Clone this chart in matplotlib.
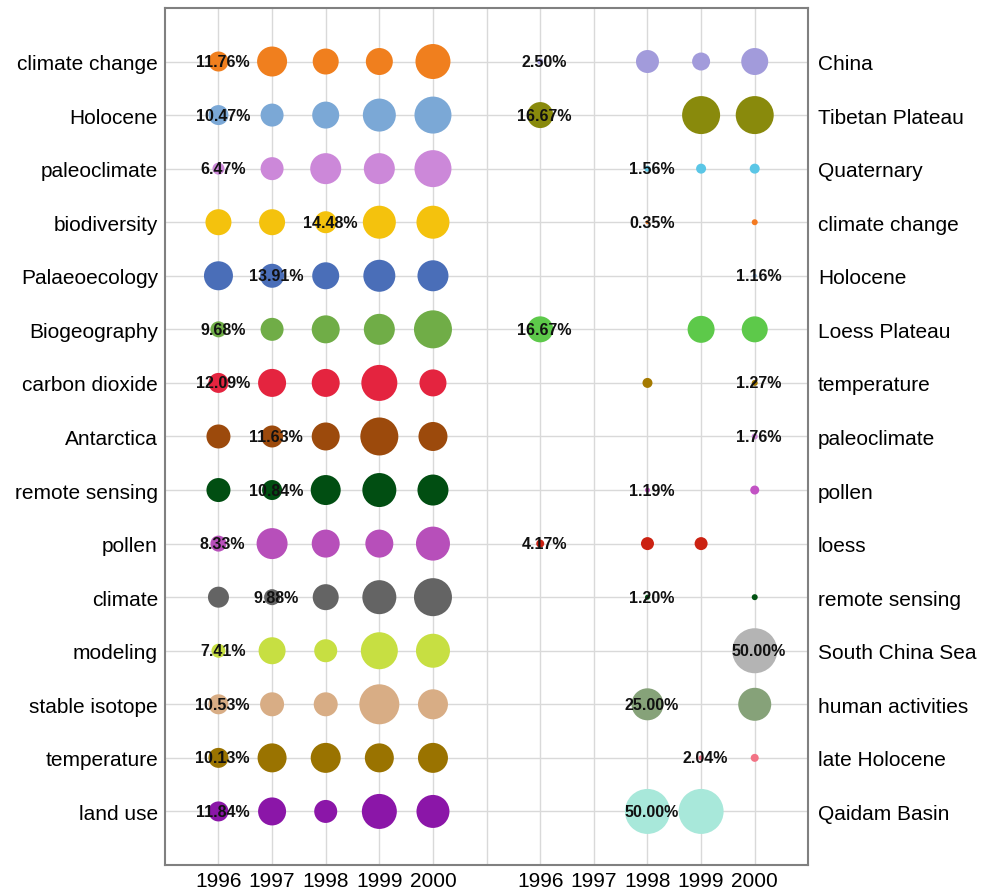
import matplotlib
matplotlib.use("Agg")
import matplotlib.pyplot as plt
import numpy as np

plt.rcParams['font.family'] = ['Liberation Sans', 'DejaVu Sans']

years = ["1996", "1997", "1998", "1999", "2000"]

left_keywords = ["climate change", "Holocene", "paleoclimate", "biodiversity", "Palaeoecology",
                 "Biogeography", "carbon dioxide", "Antarctica", "remote sensing", "pollen",
                 "climate", "modeling", "stable isotope", "temperature", "land use"]
right_keywords = ["China", "Tibetan Plateau", "Quaternary", "climate change", "Holocene",
                  "Loess Plateau", "temperature", "paleoclimate", "pollen", "loess",
                  "remote sensing", "South China Sea", "human activities", "late Holocene",
                  "Qaidam Basin"]

# relative bubble magnitudes (per keyword, per year)
left_vals = [
    [20, 30, 26, 27, 35],
    [20, 23, 27, 33, 37],
    [12, 23, 31, 31, 37],
    [26, 26, 22, 33, 33],
    [29, 24, 27, 32, 31],
    [16, 23, 28, 31, 38],
    [20, 28, 28, 36, 27],
    [24, 22, 28, 38, 29],
    [24, 20, 30, 34, 31],
    [16, 31, 28, 28, 34],
    [21, 16, 26, 34, 38],
    [14, 27, 23, 37, 34],
    [20, 24, 24, 40, 30],
    [20, 29, 30, 29, 30],
    [20, 28, 23, 35, 33],
]
right_vals = [
    [6, 0, 23, 18, 27],
    [26, 0, 0, 38, 38],
    [0, 0, 6, 10, 10],
    [0, 0, 4, 0, 6],
    [0, 0, 0, 0, 4],
    [26, 0, 0, 27, 26],
    [0, 0, 10, 0, 6],
    [0, 0, 0, 0, 6],
    [0, 0, 5, 0, 9],
    [8, 0, 13, 13, 0],
    [0, 0, 5, 0, 6],
    [0, 0, 0, 0, 45],
    [0, 0, 32, 0, 33],
    [0, 0, 0, 5, 8],
    [0, 0, 45, 45, 0],
]

left_colors = ["#F07F1E", "#7BA8D6", "#CC88D9", "#F4C20D", "#4A6EB8", "#70AD47", "#E4243F",
               "#9C4A0C", "#014E12", "#B74FBA", "#646464", "#C7DF42", "#D8AD85", "#9A7300",
               "#8B16A8"]
right_colors = ["#A29BDB", "#898A0C", "#5AC6E6", "#F47A20", "#7BA8D6", "#5DC94A", "#A57A00",
                "#CC88D9", "#C252C4", "#CB2212", "#015212", "#B4B4B4", "#86A279", "#F27385",
                "#A8E8DA"]

# percentage label: (year index, text)
left_labels = [(0, "11.76%"), (0, "10.47%"), (0, "6.47%"), (2, "14.48%"), (1, "13.91%"),
               (0, "9.68%"), (0, "12.09%"), (1, "11.63%"), (1, "10.84%"), (0, "8.33%"),
               (1, "9.88%"), (0, "7.41%"), (0, "10.53%"), (0, "10.13%"), (0, "11.84%")]
right_labels = [(0, "2.50%"), (0, "16.67%"), (2, "1.56%"), (2, "0.35%"), (4, "1.16%"),
                (0, "16.67%"), (4, "1.27%"), (4, "1.76%"), (2, "1.19%"), (0, "4.17%"),
                (2, "1.20%"), (4, "50.00%"), (2, "25.00%"), (3, "2.04%"), (2, "50.00%")]

fig = plt.figure(figsize=(9.87, 8.95), dpi=100)
ax = fig.add_axes([0.167, 0.0324, 0.652, 0.9576])

n = len(left_keywords)
rows = np.arange(1, n + 1)
left_x = np.arange(1, 6)
right_x = np.arange(7, 12)

for i in range(n):
    for j in range(5):
        d = left_vals[i][j]
        if d > 0:
            ax.scatter(left_x[j], rows[i], s=(d * 0.72) ** 2, color=left_colors[i],
                       edgecolors="none", zorder=3)
        d = right_vals[i][j]
        if d > 0:
            ax.scatter(right_x[j], rows[i], s=(d * 0.72) ** 2, color=right_colors[i],
                       edgecolors="none", zorder=3)
    j, txt = left_labels[i]
    ax.text(left_x[j] + 0.08, rows[i], txt, ha="center", va="center", fontsize=11.5,
            fontweight="bold", color="#111111", zorder=4)
    j, txt = right_labels[i]
    ax.text(right_x[j] + 0.08, rows[i], txt, ha="center", va="center", fontsize=11.5,
            fontweight="bold", color="#111111", zorder=4)

ax.set_xlim(0, 12)
ax.set_ylim(n + 1, 0)
ax.set_xticks(np.arange(1, 12))
ax.set_xticklabels(years + [""] + years, fontsize=15)
ax.set_yticks(rows)
ax.set_yticklabels(left_keywords, fontsize=15)
ax.tick_params(axis="y", length=0, pad=5)
ax.tick_params(axis="x", length=0, pad=4)
ax.grid(True, color="#D9D9D9", linewidth=1.0, zorder=0)
ax.set_axisbelow(True)
for sp in ax.spines.values():
    sp.set_color("#808080")
    sp.set_linewidth(1.5)

ax2 = ax.twinx()
ax2.set_ylim(n + 1, 0)
ax2.set_yticks(rows)
ax2.set_yticklabels(right_keywords, fontsize=15)
ax2.tick_params(length=0, pad=7)
for sp in ax2.spines.values():
    sp.set_visible(False)

fig.savefig("out.png", dpi=100)
